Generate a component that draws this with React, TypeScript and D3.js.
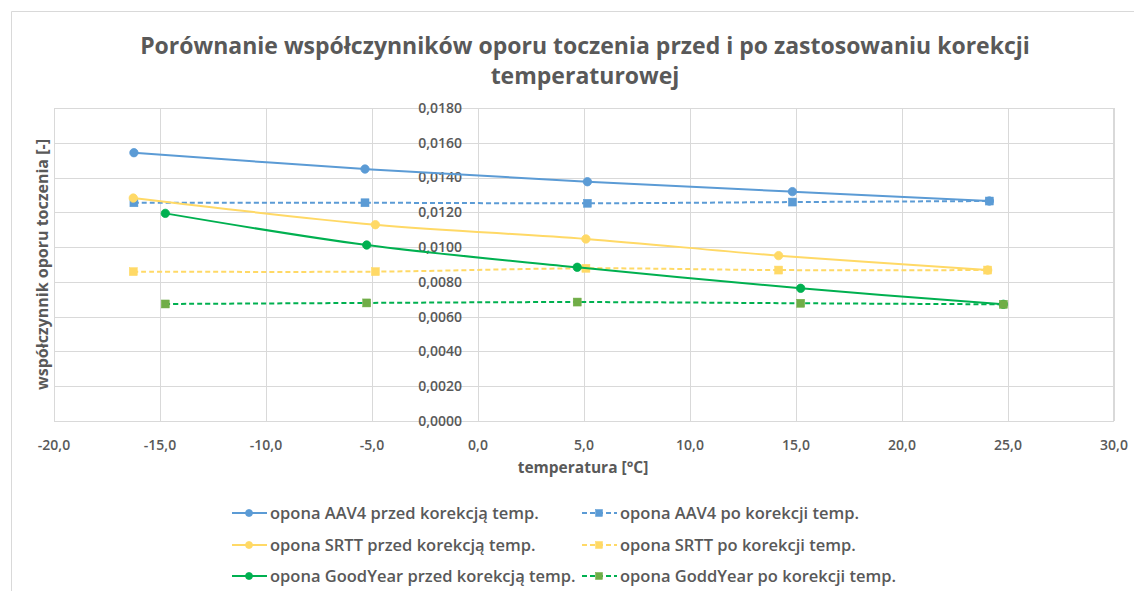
import React from "react";
import * as d3 from "d3";

const titleLines = ["Porównanie współczynników oporu toczenia przed i po zastosowaniu korekcji", "temperaturowej"];
const xTitle = "temperatura [°C]";
const yTitle = "współczynnik oporu toczenia [-]";
const xTicks = [-20, -15, -10, -5, 0, 5, 10, 15, 20, 25, 30];
const yTicks = [0, 0.002, 0.004, 0.006, 0.008, 0.01, 0.012, 0.014, 0.016, 0.018];

const tempAAV4 = [-16.23, -5.33, 5.16, 14.83, 24.12];
const tempSRTT = [-16.26, -4.84, 5.09, 14.18, 24.04];
const tempGY = [-14.75, -5.25, 4.68, 15.22, 24.78];

const aav4Before = [0.01543, 0.01449, 0.01376, 0.01319, 0.01265];
const aav4After = [0.01255, 0.01255, 0.01252, 0.01259, 0.01265];
const srttBefore = [0.01282, 0.01129, 0.01047, 0.00951, 0.00868];
const srttAfter = [0.00859, 0.00859, 0.00878, 0.00868, 0.00868];
const gyBefore = [0.01194, 0.01012, 0.00884, 0.00763, 0.00671];
const gyAfter = [0.00673, 0.00679, 0.00684, 0.00677, 0.00671];

type Series = { name: string; xs: number[]; ys: number[]; color: string; fill: string; dashed: boolean; marker: "circle" | "square" };

const series: Series[] = [
  { name: "opona AAV4 przed korekcją temp.", xs: tempAAV4, ys: aav4Before, color: "#5B9BD5", fill: "#5B9BD5", dashed: false, marker: "circle" },
  { name: "opona AAV4 po korekcji temp.", xs: tempAAV4, ys: aav4After, color: "#5B9BD5", fill: "#5B9BD5", dashed: true, marker: "square" },
  { name: "opona SRTT przed korekcją temp.", xs: tempSRTT, ys: srttBefore, color: "#FFD966", fill: "#FFD966", dashed: false, marker: "circle" },
  { name: "opona SRTT po korekcji temp.", xs: tempSRTT, ys: srttAfter, color: "#FFD966", fill: "#FFD966", dashed: true, marker: "square" },
  { name: "opona GoodYear przed korekcją temp.", xs: tempGY, ys: gyBefore, color: "#00B050", fill: "#00B050", dashed: false, marker: "circle" },
  { name: "opona GoddYear po korekcji temp.", xs: tempGY, ys: gyAfter, color: "#00B050", fill: "#70AD47", dashed: true, marker: "square" },
];

const FONT = "'Open Sans', 'DejaVu Sans', sans-serif";
const TXT = "#595959";
const GRID = "#D9D9D9";

export default function App() {
  const W = 1134, H = 591;
  const left = 54, right = 1114, top = 108, bottom = 421;
  const x = d3.scaleLinear().domain([-20, 30]).range([left, right]);
  const y = d3.scaleLinear().domain([0, 0.018]).range([bottom, top]);
  const fmtY = (v: number) => v.toFixed(4).replace(".", ",");
  const fmtX = (v: number) => v.toFixed(1).replace(".", ",");
  const line = d3.line<[number, number]>().x(d => x(d[0])).y(d => y(d[1])).curve(d3.curveCatmullRom.alpha(0.5));

  const legendCols = [232, 582];
  const legendRows = [513, 545, 576];

  const marker = (s: Series, cx: number, cy: number, key: string | number, small = false) =>
    s.marker === "circle" ? (
      <circle key={key} cx={cx} cy={cy} r={small ? 3.5 : 4.2} fill={s.fill} stroke={s.color} strokeWidth={0.8} />
    ) : (
      <rect key={key} x={cx - (small ? 3.5 : 4)} y={cy - (small ? 3.5 : 4)} width={small ? 7 : 8} height={small ? 7 : 8} fill={s.fill} stroke={s.fill} strokeWidth={0.5} />
    );

  return (
    <svg width={W} height={H} style={{ position: "absolute", left: 0, top: 0, background: "#fff" }} fontFamily={FONT}>
      <rect x={0} y={0} width={W} height={H} fill="#fff" />
      <path d={`M11.5,${H} V11.5 H${W}`} fill="none" stroke="#D9D9D9" strokeWidth={1} />
      {/* title */}
      <text x={585} y={54} textAnchor="middle" fontSize={23} fontWeight={700} fill={TXT}>{titleLines[0]}</text>
      <text x={585} y={84} textAnchor="middle" fontSize={23} fontWeight={700} fill={TXT}>{titleLines[1]}</text>
      {/* gridlines */}
      {yTicks.map(t => (
        <line key={"gy" + t} x1={left} x2={right} y1={Math.round(y(t)) + 0.5} y2={Math.round(y(t)) + 0.5} stroke={GRID} strokeWidth={1} />
      ))}
      {xTicks.map(t => (
        <line key={"gx" + t} x1={Math.round(x(t)) + 0.5} x2={Math.round(x(t)) + 0.5} y1={top} y2={bottom} stroke={GRID} strokeWidth={1} />
      ))}
      <rect x={left + 0.5} y={top + 0.5} width={right - left - 1} height={bottom - top} fill="none" stroke={GRID} />
      {/* y tick labels */}
      {yTicks.map(t => (
        <text key={"ly" + t} x={x(0) - 16} y={y(t)} dy="0.35em" textAnchor="end" fontSize={14} fontWeight={600} fill={TXT}>{fmtY(t)}</text>
      ))}
      {xTicks.map(t => (
        <text key={"lx" + t} x={x(t)} y={445} dy="0.35em" textAnchor="middle" fontSize={14} fontWeight={600} fill={TXT}>{fmtX(t)}</text>
      ))}
      {/* axis titles */}
      <text x={583} y={468} dy="0.35em" textAnchor="middle" fontSize={15.5} fontWeight={700} fill={TXT}>{xTitle}</text>
      <text transform={`translate(42,${(top + bottom) / 2}) rotate(-90)`} dy="0.35em" textAnchor="middle" fontSize={16} fontWeight={700} fill={TXT}>{yTitle}</text>
      {/* series */}
      {series.map((s, i) => {
        const pts = s.xs.map((v, j) => [v, s.ys[j]] as [number, number]);
        return (
          <g key={"s" + i}>
            <path d={line(pts) || ""} fill="none" stroke={s.color} strokeWidth={2} strokeDasharray={s.dashed ? "5,3" : undefined} />
            {pts.map((p, j) => marker(s, x(p[0]), y(p[1]), j))}
          </g>
        );
      })}
      {/* legend */}
      {series.map((s, i) => {
        const lx = legendCols[i % 2];
        const ly = legendRows[Math.floor(i / 2)];
        return (
          <g key={"lg" + i}>
            <line x1={lx} x2={lx + 35} y1={ly} y2={ly} stroke={s.color} strokeWidth={2} strokeDasharray={s.dashed ? "5,3" : undefined} />
            {marker(s, lx + 17, ly, "m", true)}
            <text x={lx + 38} y={ly} dy="0.35em" fontSize={16.5} fontWeight={600} fill={TXT}>{s.name}</text>
          </g>
        );
      })}
    </svg>
  );
}
